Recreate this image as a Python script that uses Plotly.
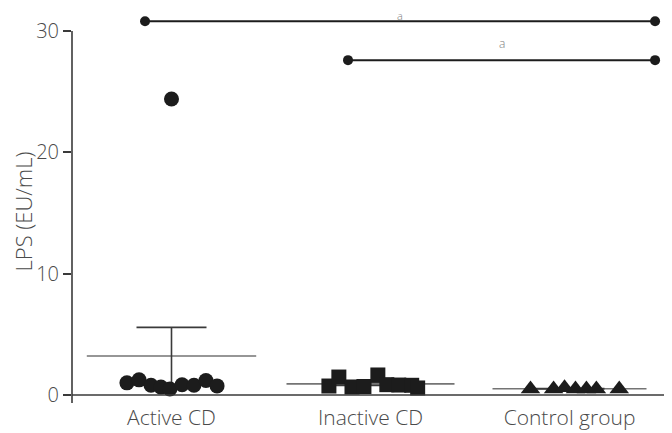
import numpy as np
import plotly.graph_objects as go

# ── Data ────────────────────────────────────────────────────────────────────
groups = ["Active CD", "Inactive CD", "Control group"]

active_lps = [1.0, 1.25, 0.8, 0.65, 0.5, 0.85, 0.8, 1.2, 0.75, 24.4]
inactive_lps = [0.74, 1.48, 0.66, 0.7, 1.65, 0.85, 0.82, 0.8, 0.58]
control_lps = [0.5, 0.5, 0.6, 0.5, 0.5, 0.5, 0.5]

# significance brackets (group-axis positions, y level, label)
bracket_x0 = [-0.133, 0.887]
bracket_x1 = [2.43, 2.43]
bracket_y = [30.8, 27.6]
bracket_text = ["a", "a"]

y_ticks = [0, 10, 20, 30]

# ── Layout constants (scatter jitter for the dot plot) ──────────────────────
active_jit = [-0.224, -0.163, -0.103, -0.053, -0.008, 0.053, 0.113, 0.173, 0.229, 0.0]
inactive_jit = [-0.209, -0.159, -0.093, -0.033, 0.037, 0.082, 0.142, 0.207, 0.237]
control_jit = [-0.196, -0.08, -0.025, 0.03, 0.085, 0.135, 0.25]

INK = "#1c1c1c"
AXIS = "#3a3a3a"
TXT = "#4a4a4a"
FONT = "Open Sans"
Y_LO, Y_HI = -0.66, 30.91
TOP = 12  # top margin (px)

series = [
    (active_lps, active_jit, "circle", 15),
    (inactive_lps, inactive_jit, "square", 15),
    (control_lps, control_jit, "triangle-up", 17),
]

fig = go.Figure()

# ── Mean ± SEM ─────────────────────────────────────────────────────────────
means = [float(np.mean(v)) for v, *_ in series]
sems = [float(np.std(v, ddof=1) / np.sqrt(len(v))) for v, *_ in series]
fig.add_trace(go.Scatter(
    x=[0, 1, 2], y=means,
    mode="markers",
    marker=dict(symbol="line-ew", size=[121, 120, 110],
                line=dict(color=AXIS, width=1.6)),
    error_y=dict(type="data", array=sems, arrayminus=sems,
                 color=AXIS, thickness=1.6, width=35),
    hoverinfo="skip", showlegend=False,
))

# ── Individual values ──────────────────────────────────────────────────────
for i, (vals, jit, sym, sz) in enumerate(series):
    fig.add_trace(go.Scatter(
        x=[i + j for j in jit], y=vals,
        mode="markers",
        marker=dict(symbol=sym, size=sz, color=INK, line=dict(width=0)),
        cliponaxis=False, showlegend=False,
    ))

# ── Significance brackets ──────────────────────────────────────────────────
annotations = []
for k, (x0, x1, yb, t) in enumerate(zip(bracket_x0, bracket_x1, bracket_y, bracket_text)):
    fig.add_trace(go.Scatter(
        x=[x0, x1], y=[yb, yb], mode="lines+markers",
        line=dict(color=INK, width=2),
        marker=dict(size=10, color=INK),
        cliponaxis=False, showlegend=False,
    ))
    if k == 0:
        # first label sits right at the top edge of the figure
        ann = dict(yref="paper", y=1, yanchor="top", yshift=TOP + 1, size=11)
    else:
        ann = dict(yref="y", y=yb, yanchor="bottom", yshift=7, size=12)
    size = ann.pop("size")
    annotations.append(dict(
        x=(x0 + x1) / 2, text=t, showarrow=False, borderpad=0,
        font=dict(family=FONT, size=size, color="#808080", weight=300),
        **ann,
    ))

# ── Axes lines (Prism style) ───────────────────────────────────────────────
shapes = [
    dict(type="line", xref="paper", yref="y", x0=0, x1=0, y0=Y_LO, y1=30,
         line=dict(color=AXIS, width=1.6)),
    dict(type="line", xref="paper", yref="y", x0=0, x1=1, y0=0, y1=0,
         line=dict(color=AXIS, width=1.6)),
    dict(type="line", xref="paper", yref="y", x0=1, x1=1, y0=Y_LO, y1=0,
         line=dict(color=AXIS, width=1.6)),
]

# page body has an 8px margin, so the figure is sized 8px smaller
fig.update_layout(
    width=664, height=425,
    margin=dict(l=64, r=3, t=TOP, b=30),
    plot_bgcolor="white", paper_bgcolor="white",
    shapes=shapes, annotations=annotations,
    font=dict(family=FONT, color=TXT, weight=300),
    xaxis=dict(
        range=[-0.5, 2.5], tickvals=[0, 1, 2], ticktext=groups,
        showgrid=False, zeroline=False, showline=False, ticks="",
        tickfont=dict(size=21, family=FONT, color=TXT, weight=300),
        automargin=False,
    ),
    yaxis=dict(
        range=[Y_LO, Y_HI], tickvals=y_ticks,
        showgrid=False, zeroline=False, showline=False,
        ticks="outside", ticklen=8, tickwidth=1.6, tickcolor=AXIS,
        tickfont=dict(size=20, family=FONT, color=TXT, weight=300),
        title=dict(text="LPS (EU/mL)", standoff=4,
                   font=dict(size=22, family=FONT, color=TXT, weight=300)),
        automargin=False,
    ),
)

fig.write_html("out.html")
